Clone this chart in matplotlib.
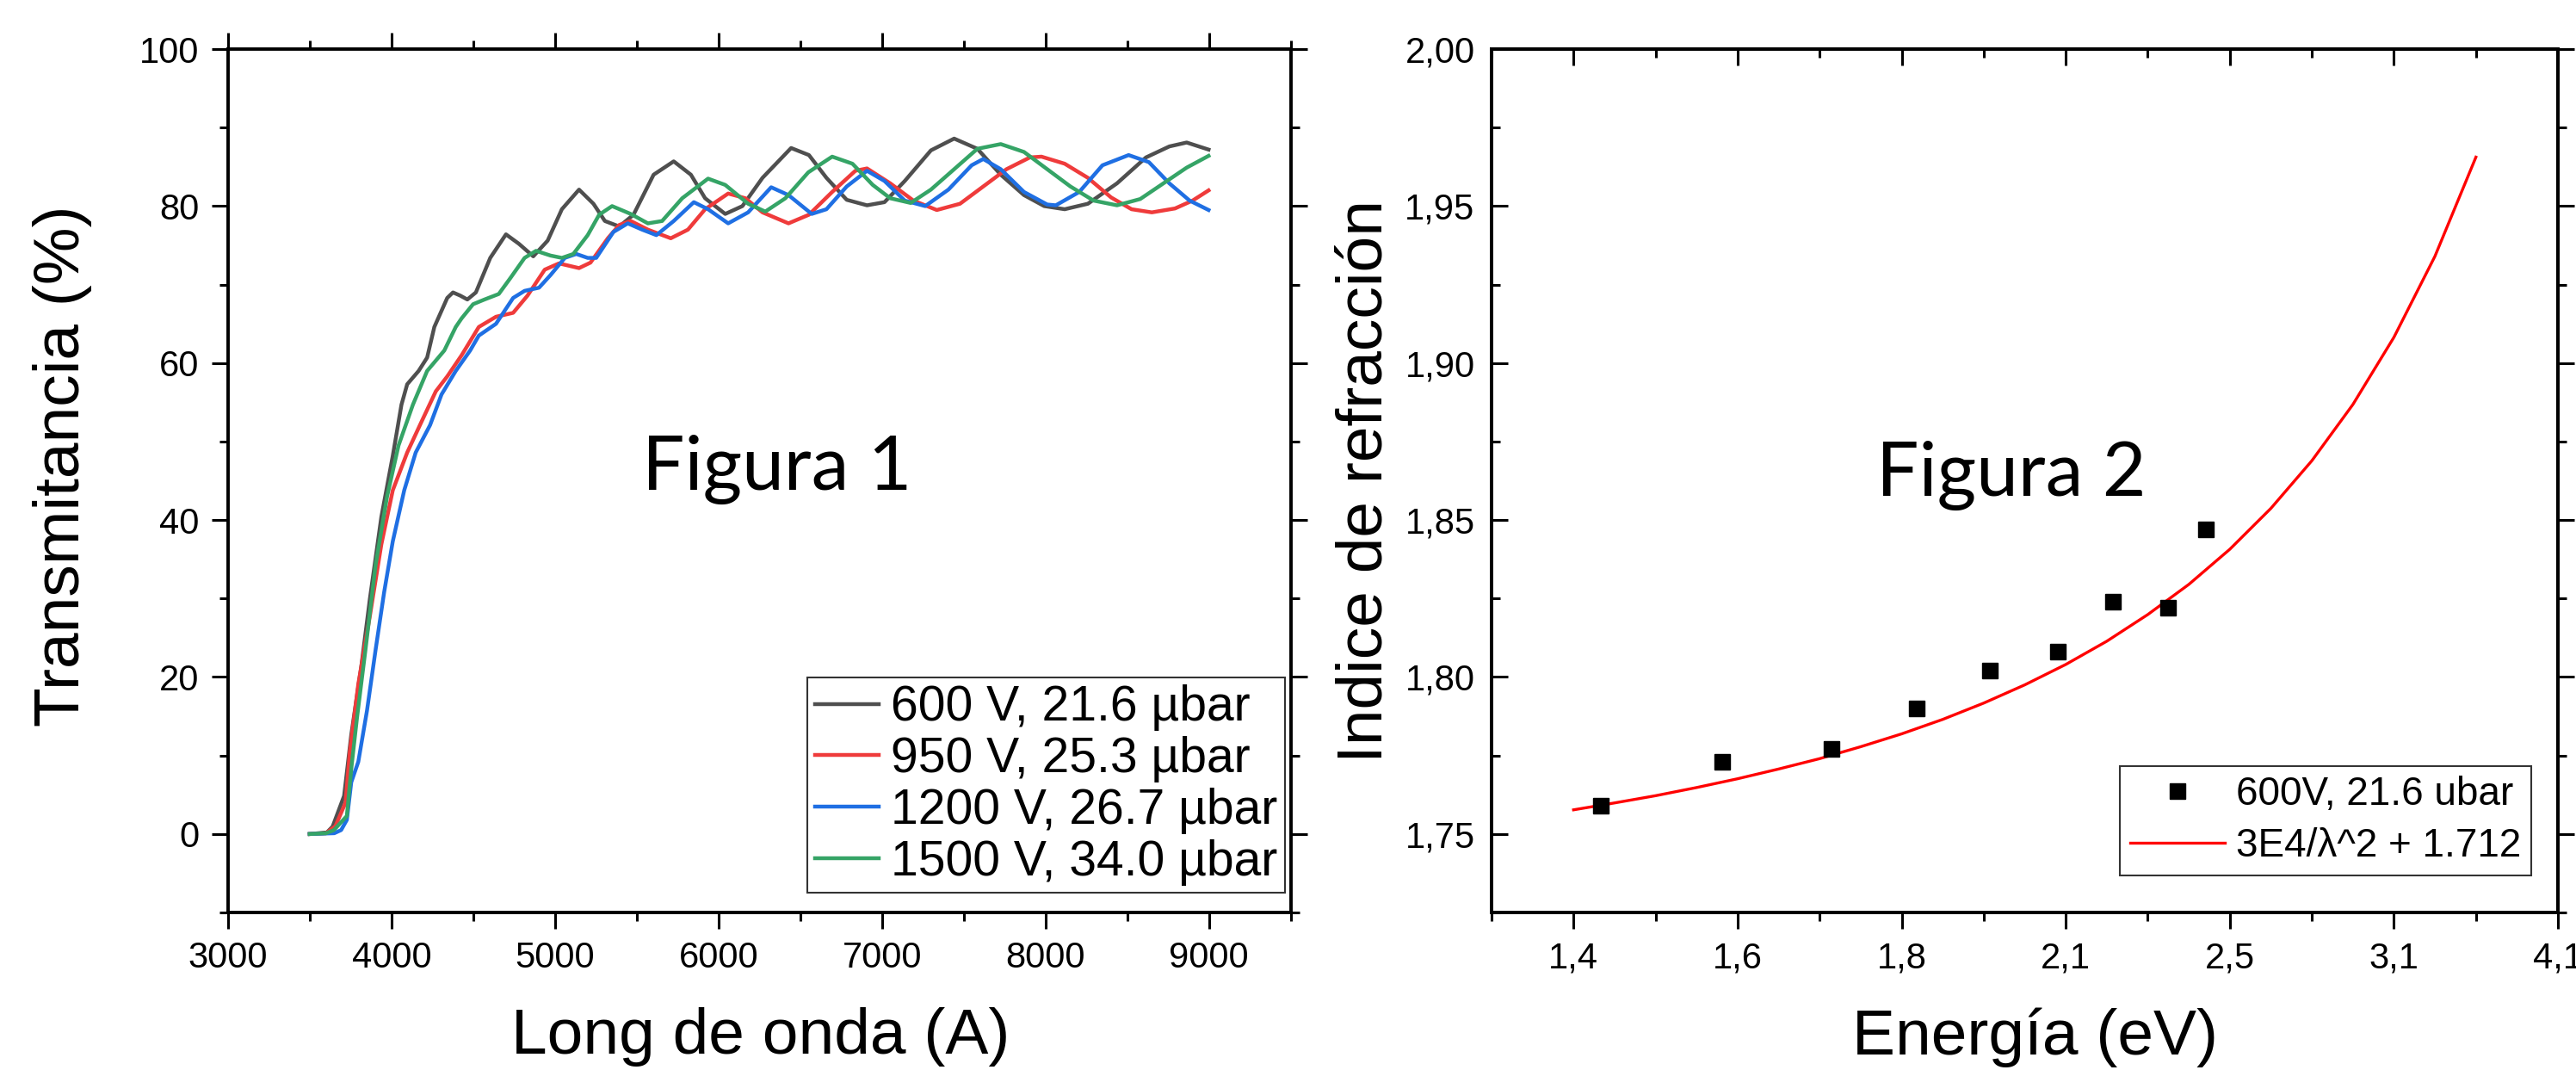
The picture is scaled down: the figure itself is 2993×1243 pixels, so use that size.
import matplotlib
matplotlib.use("Agg")
import matplotlib.pyplot as plt
from matplotlib.ticker import MultipleLocator, FixedLocator, FuncFormatter

plt.rcParams["font.family"] = ["Liberation Sans", "DejaVu Sans"]

# ---------------------------------------------------------------
# Figura 1: transmittance spectra (wavelength in A, T in %)
# ---------------------------------------------------------------
wl_600 = [3500, 3605, 3640, 3710, 3754, 3815, 3868, 3938, 4008, 4061, 4096, 4166,
          4218, 4262, 4341, 4376, 4420, 4464, 4516, 4604, 4700, 4779, 4867, 4955,
          5042, 5147, 5235, 5305, 5393, 5480, 5603, 5726, 5831, 5918, 6041, 6146,
          6269, 6444, 6553, 6660, 6784, 6908, 7015, 7139, 7299, 7441, 7583, 7726,
          7868, 7992, 8117, 8259, 8437, 8614, 8757, 8863, 8997]
t_600 = [0, 0.2, 0.95, 4.85, 12.65, 21.3, 30.0, 40.4, 48.2, 54.7, 57.3, 59.0,
         60.7, 64.6, 68.3, 69.0, 68.6, 68.1, 69.0, 73.4, 76.4, 75.2, 73.6, 75.6,
         79.6, 82.1, 80.3, 78.1, 77.4, 78.9, 84.0, 85.7, 84.0, 81.0, 79.0, 80.0,
         83.6, 87.4, 86.5, 83.6, 80.8, 80.1, 80.5, 83.2, 87.1, 88.6, 87.3, 84.0,
         81.4, 80.0, 79.6, 80.3, 82.9, 86.2, 87.6, 88.1, 87.2]

wl_950 = [3500, 3600, 3657, 3719, 3745, 3797, 3868, 3938, 4008, 4096, 4183, 4271,
          4341, 4429, 4534, 4639, 4744, 4832, 4937, 5024, 5147, 5217, 5323, 5393,
          5463, 5568, 5708, 5813, 5918, 6059, 6164, 6269, 6428, 6553, 6695, 6837,
          6908, 7050, 7192, 7335, 7477, 7619, 7761, 7904, 7975, 8117, 8259, 8401,
          8526, 8650, 8792, 8899, 8997]
t_950 = [0, 0.1, 1.0, 4.0, 10.5, 19.1, 27.8, 36.9, 43.8, 48.6, 52.5, 56.4,
         58.3, 61.0, 64.6, 65.9, 66.4, 68.6, 71.9, 72.7, 72.1, 72.8, 75.9, 77.6,
         78.1, 77.0, 75.9, 77.0, 79.6, 81.6, 81.0, 79.2, 77.8, 78.9, 81.8, 84.5,
         84.8, 82.9, 80.7, 79.5, 80.3, 82.5, 84.7, 86.2, 86.3, 85.4, 83.6, 81.1,
         79.6, 79.2, 79.7, 80.7, 82.0]

wl_1200 = [3500, 3650, 3692, 3727, 3754, 3797, 3850, 3903, 3955, 4008, 4078, 4148,
           4236, 4306, 4393, 4481, 4534, 4639, 4744, 4814, 4902, 4972, 5060, 5130,
           5200, 5252, 5357, 5445, 5533, 5620, 5726, 5849, 5936, 6059, 6181, 6322,
           6428, 6570, 6660, 6784, 6908, 7015, 7139, 7264, 7406, 7548, 7619, 7726,
           7868, 8010, 8063, 8206, 8348, 8508, 8632, 8757, 8881, 8997]
t_1200 = [0, 0.1, 0.5, 1.8, 6.6, 9.2, 15.7, 23.5, 30.8, 37.3, 43.8, 48.6,
          52.1, 56.0, 59.0, 61.6, 63.5, 65.0, 68.3, 69.2, 69.6, 71.2, 73.4, 73.9,
          73.4, 73.4, 76.7, 77.8, 77.0, 76.3, 78.1, 80.5, 79.6, 77.8, 79.2, 82.4,
          81.4, 79.0, 79.6, 82.5, 84.5, 83.2, 80.7, 80.0, 82.1, 85.2, 86.0, 84.7,
          81.8, 80.2, 80.1, 81.8, 85.2, 86.5, 85.6, 82.9, 80.7, 79.5]

wl_1500 = [3500, 3600, 3648, 3727, 3754, 3789, 3841, 3903, 3973, 4043, 4131, 4218,
           4323, 4393, 4429, 4499, 4569, 4656, 4726, 4814, 4884, 4972, 5042, 5112,
           5200, 5270, 5349, 5463, 5568, 5655, 5778, 5936, 6041, 6181, 6286, 6409,
           6549, 6695, 6819, 6943, 7050, 7175, 7299, 7441, 7583, 7726, 7868, 8010,
           8152, 8294, 8437, 8579, 8721, 8863, 8997]
t_1500 = [0, 0.1, 0.5, 2.3, 8.3, 14.8, 23.5, 34.3, 43.0, 49.5, 54.7, 59.0,
          61.6, 64.6, 65.7, 67.5, 68.1, 68.8, 70.8, 73.4, 74.3, 73.7, 73.4, 73.9,
          76.3, 78.9, 80.0, 79.0, 77.8, 78.1, 81.0, 83.5, 82.7, 80.3, 79.3, 81.0,
          84.3, 86.3, 85.4, 82.7, 81.0, 80.4, 82.1, 84.7, 87.3, 87.9, 86.9, 84.7,
          82.5, 80.7, 80.1, 80.9, 82.9, 84.9, 86.4]

series_labels = ["600 V, 21.6 \u00b5bar", "950 V, 25.3 \u00b5bar",
                 "1200 V, 26.7 \u00b5bar", "1500 V, 34.0 \u00b5bar"]
series_colors = ["#4f4f4f", "#ef3b3b", "#1f6fe3", "#35a466"]

# ---------------------------------------------------------------
# Figura 2: refractive index (x axis is wavelength, labelled in eV)
# ---------------------------------------------------------------
pts_wl = [8831, 8094, 7430, 6906, 6461, 6048, 5713, 5379, 5146]
pts_n = [1.759, 1.773, 1.777, 1.790, 1.802, 1.808, 1.824, 1.822, 1.847]

fit_wl = [9000, 8750, 8500, 8250, 8000, 7750, 7500, 7250, 7000, 6750, 6500, 6250,
          6000, 5750, 5500, 5250, 5000, 4750, 4500, 4250, 4000, 3750, 3500]
fit_n = [1.7577, 1.7599, 1.7622, 1.7648, 1.7676, 1.7707, 1.7740, 1.7778, 1.7819,
         1.7865, 1.7917, 1.7975, 1.8040, 1.8114, 1.8199, 1.8295, 1.8407, 1.8537,
         1.8689, 1.8868, 1.9082, 1.9340, 1.9656]

energy_tick_wl = [9000, 8000, 7000, 6000, 5000, 4000, 3000]
energy_labels = ["1,4", "1,6", "1,8", "2,1", "2,5", "3,1", "4,1"]

SPINE_LW = 2.8
TICK_W = 2.2
MAJ_LEN = 14
MIN_LEN = 7
TICK_FS = 30
LABEL_FS = 54

fig = plt.figure(figsize=(29.93, 12.43), dpi=100)
ax1 = fig.add_axes([0.0885, 0.1472, 0.4126, 0.8069])
ax2 = fig.add_axes([0.579, 0.1472, 0.414, 0.8069])

# ---- left panel ----
for wl, t, lab, col in zip([wl_600, wl_950, wl_1200, wl_1500],
                           [t_600, t_950, t_1200, t_1500],
                           series_labels, series_colors):
    ax1.plot(wl, t, color=col, lw=3.2, label=lab)

ax1.set_xlim(3000, 9500)
ax1.set_ylim(-10, 100)
ax1.xaxis.set_major_locator(MultipleLocator(1000))
ax1.xaxis.set_minor_locator(MultipleLocator(500))
ax1.yaxis.set_major_locator(MultipleLocator(20))
ax1.yaxis.set_minor_locator(MultipleLocator(10))
ax1.tick_params(which="both", direction="out", top=True, right=True,
                width=TICK_W, labelsize=TICK_FS, pad=10)
ax1.tick_params(which="major", length=MAJ_LEN)
ax1.tick_params(which="minor", length=MIN_LEN)
for sp in ax1.spines.values():
    sp.set_linewidth(SPINE_LW)

ax1.set_xlabel("Long de onda (A)", fontsize=LABEL_FS)
ax1.set_ylabel("Transmitancia (%)", fontsize=LABEL_FS)
ax1.xaxis.set_label_coords(0.501, -0.11)
ax1.yaxis.set_label_coords(-0.128, 0.517)

leg1 = ax1.legend(loc="lower right", bbox_to_anchor=(0.9943, 0.0229),
                  fontsize=41, fancybox=False, framealpha=1, edgecolor="#333333",
                  borderpad=0.15, labelspacing=0.1, handlelength=1.3,
                  handletextpad=0.25, borderaxespad=0)
leg1.get_frame().set_linewidth(1.5)

ax1.text(0.5166, 0.513, "Figura 1", transform=ax1.transAxes, ha="center",
         va="center", fontsize=63, family="Lato")

# ---- right panel ----
line_fit, = ax2.plot(fit_wl, fit_n, color="#ff0000", lw=2.4,
                     label="3E4/\u03bb^2 + 1.712")
pts, = ax2.plot(pts_wl, pts_n, "s", color="black", ms=13, ls="none",
                label="600V, 21.6 ubar")

ax2.set_xlim(9500, 3000)
ax2.set_ylim(1.725, 2.0)
ax2.xaxis.set_major_locator(FixedLocator(energy_tick_wl))
ax2.set_xticklabels(energy_labels)
ax2.xaxis.set_minor_locator(MultipleLocator(500))
ax2.yaxis.set_major_locator(MultipleLocator(0.05))
ax2.yaxis.set_minor_locator(MultipleLocator(0.025))
ax2.yaxis.set_major_formatter(FuncFormatter(lambda v, p: f"{v:.2f}".replace(".", ",")))
ax2.tick_params(axis="x", which="both", direction="out", top=False,
                width=TICK_W, labelsize=TICK_FS, pad=10)
ax2.tick_params(axis="y", which="both", direction="in", right=False,
                width=TICK_W, labelsize=TICK_FS, pad=14)
ax2.tick_params(which="major", length=MAJ_LEN)
ax2.tick_params(which="minor", length=MIN_LEN)
for sp in ax2.spines.values():
    sp.set_linewidth(SPINE_LW)

# top ticks point inward, right ticks point outward
secx = ax2.secondary_xaxis("top")
secx.xaxis.set_major_locator(FixedLocator(energy_tick_wl))
secx.xaxis.set_minor_locator(MultipleLocator(500))
secx.tick_params(which="both", direction="in", labeltop=False, width=TICK_W)
secx.tick_params(which="major", length=MAJ_LEN)
secx.tick_params(which="minor", length=MIN_LEN)
secx.spines["top"].set_linewidth(SPINE_LW)

secy = ax2.secondary_yaxis("right")
secy.yaxis.set_major_locator(MultipleLocator(0.05))
secy.yaxis.set_minor_locator(MultipleLocator(0.025))
secy.tick_params(which="both", direction="out", labelright=False, width=TICK_W)
secy.tick_params(which="major", length=MAJ_LEN)
secy.tick_params(which="minor", length=MIN_LEN)
secy.spines["right"].set_linewidth(SPINE_LW)

ax2.set_xlabel("Energía (eV)", fontsize=LABEL_FS)
ax2.set_ylabel("Indice de refracción", fontsize=LABEL_FS)
ax2.xaxis.set_label_coords(0.51, -0.11)
ax2.yaxis.set_label_coords(-0.091, 0.5)

leg2 = ax2.legend([pts, line_fit], [pts.get_label(), line_fit.get_label()],
                  loc="lower right", bbox_to_anchor=(0.975, 0.043),
                  fontsize=33, fancybox=False, framealpha=1, edgecolor="#333333",
                  borderpad=0.25, labelspacing=0.35, handlelength=2.4,
                  handletextpad=0.3, borderaxespad=0, numpoints=1)
leg2.get_frame().set_linewidth(1.5)

ax2.text(0.4875, 0.506, "Figura 2", transform=ax2.transAxes, ha="center",
         va="center", fontsize=63, family="Lato")

fig.savefig("out.png", dpi=100)
